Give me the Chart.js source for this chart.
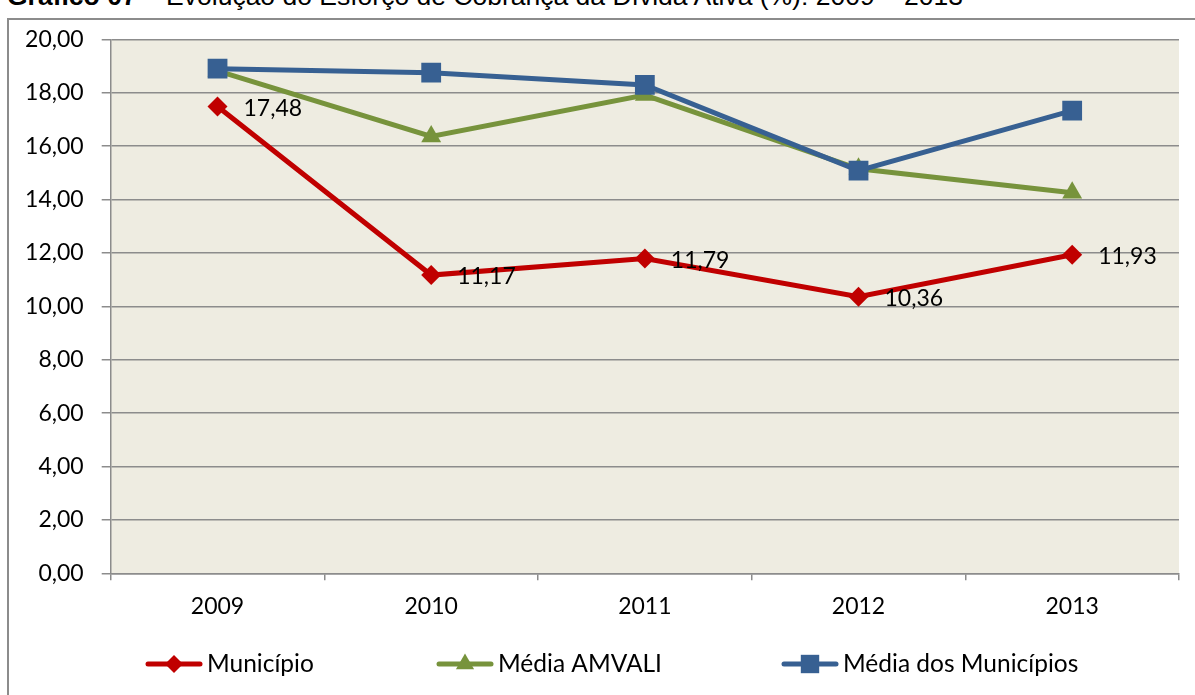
<!DOCTYPE html>
<html>
<head>
<meta charset="utf-8">
<script src="https://cdn.jsdelivr.net/npm/chart.js@4.4.0/dist/chart.umd.min.js"></script>
<style>
    html, body { margin: 0; padding: 0; background: #fff; overflow: hidden; }
    #wrap { position: relative; width: 1195px; height: 695px; overflow: hidden; }
    #title { position: absolute; left: 7px; top: -17px; font: 26.5px "Liberation Sans", Arial, sans-serif; line-height: 26px; white-space: nowrap; color: #000; }
    #title b { font-weight: bold; }
    #frame { position: absolute; left: 7px; top: 18px; width: 1300px; height: 800px; border: 2px solid #8c8c8c; box-sizing: border-box; }
    #chart { position: absolute; left: 0; top: 0; }
</style>
</head>
<body>
<div id="wrap">
    <div id="title"><b>Gráfico 07</b> – Evolução do Esforço de Cobrança da Dívida Ativa (%): 2009 – 2013</div>
    <div id="frame"></div>
    <canvas id="chart" width="1195" height="695"></canvas>
</div>
<script>
// data
const years = ['2009', '2010', '2011', '2012', '2013'];
const municipio = [17.48, 11.17, 11.79, 10.36, 11.93];
const mediaAmvali = [18.82, 16.36, 17.91, 15.15, 14.25];
const mediaMunicipios = [18.90, 18.75, 18.29, 15.08, 17.33];
const yTicks = [0, 2, 4, 6, 8, 10, 12, 14, 16, 18, 20];

const gridColor = '#8c8c8c';
const fontFamily = 'Lato, "Open Sans", sans-serif';
const font = { family: fontFamily, size: 23 };
const legendFontSize = 24.5;
const fmt = v => v.toFixed(2).replace('.', ',');

// legend layout (Excel-style line + marker)
const legendX = [146, 437, 782];
const legendY = 664;
const legendLineLen = 56;

const plotBg = {
    id: 'plotBg',
    beforeDraw(chart) {
        const { ctx, chartArea: a } = chart;
        ctx.save();
        ctx.fillStyle = '#eeece1';
        ctx.fillRect(a.left, a.top, a.right - a.left, a.bottom - a.top);
        ctx.restore();
    }
};

const pointLabels = {
    id: 'pointLabels',
    afterDatasetsDraw(chart) {
        const ctx = chart.ctx;
        const meta = chart.getDatasetMeta(0);
        ctx.save();
        ctx.font = font.size + 'px ' + fontFamily;
        ctx.fillStyle = '#000';
        ctx.textBaseline = 'middle';
        ctx.textAlign = 'left';
        meta.data.forEach((pt, i) => {
            ctx.fillText(fmt(municipio[i]), pt.x + 26, pt.y + 2);
        });
        ctx.restore();
    }
};

const lineLegend = {
    id: 'lineLegend',
    afterDraw(chart) {
        const ctx = chart.ctx;
        chart.data.datasets.forEach((ds, i) => {
            const x0 = legendX[i];
            ctx.save();
            ctx.strokeStyle = ds.borderColor;
            ctx.lineWidth = 5;
            ctx.lineCap = 'round';
            ctx.beginPath();
            ctx.moveTo(x0 + 2, legendY);
            ctx.lineTo(x0 + legendLineLen - 2, legendY);
            ctx.stroke();
            ctx.fillStyle = ds.pointBackgroundColor;
            ctx.strokeStyle = ds.pointBackgroundColor;
            Chart.helpers.drawPoint(ctx, {
                pointStyle: ds.pointStyle,
                radius: ds.pointRadius - 1,
                rotation: 0,
                borderWidth: 0
            }, x0 + legendLineLen / 2, legendY);
            ctx.font = legendFontSize + 'px ' + fontFamily;
            ctx.fillStyle = '#000';
            ctx.textBaseline = 'middle';
            ctx.fillText(ds.label, x0 + legendLineLen + 5, legendY);
            ctx.restore();
        });
    }
};

new Chart(document.getElementById('chart'), {
    type: 'line',
    data: {
        labels: years,
        datasets: [{
            label: 'Município',
            data: municipio,
            borderColor: '#c00000',
            pointBackgroundColor: '#c00000',
            pointBorderColor: '#c00000',
            borderWidth: 5,
            pointStyle: 'rectRot',
            pointRadius: 10,
            pointBorderWidth: 0,
            order: 2
        }, {
            label: 'Média AMVALI',
            data: mediaAmvali,
            borderColor: '#77933c',
            pointBackgroundColor: '#77933c',
            pointBorderColor: '#77933c',
            borderWidth: 5,
            pointStyle: 'triangle',
            pointRadius: 11.5,
            pointBorderWidth: 0,
            order: 1
        }, {
            label: 'Média dos Municípios',
            data: mediaMunicipios,
            borderColor: '#376092',
            pointBackgroundColor: '#376092',
            pointBorderColor: '#376092',
            borderWidth: 5,
            pointStyle: 'rect',
            pointRadius: 14,
            pointBorderWidth: 0,
            order: 0
        }]
    },
    options: {
        responsive: false,
        animation: false,
        layout: { padding: { top: 39.3, right: 16, left: 0, bottom: 0 } },
        plugins: {
            legend: { display: false },
            title: { display: false },
            tooltip: { enabled: false }
        },
        elements: { line: { tension: 0 } },
        scales: {
            x: {
                offset: true,
                grid: { offset: true, drawOnChartArea: false, drawTicks: true, tickLength: 7, color: gridColor, lineWidth: 1.5 },
                border: { color: gridColor, width: 1.5 },
                ticks: { font: font, color: '#000', padding: 12, maxRotation: 0 },
                afterFit(s) { s.height = 695 - 573.3; }
            },
            y: {
                min: 0,
                max: 20,
                afterBuildTicks(s) { s.ticks = yTicks.map(v => ({ value: v })); },
                grid: { color: gridColor, lineWidth: 1.5, tickLength: 9 },
                border: { color: gridColor, width: 1.5 },
                ticks: { font: font, color: '#000', padding: 18, callback: v => fmt(v) },
                afterFit(s) { s.width = 110.7; }
            }
        }
    },
    plugins: [plotBg, pointLabels, lineLegend]
});
</script>
</body>
</html>
